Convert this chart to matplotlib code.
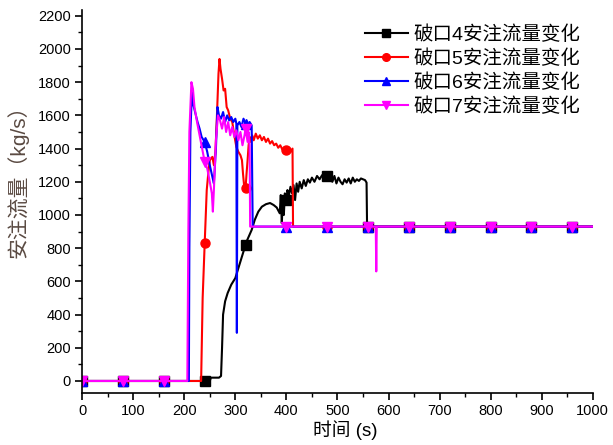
import numpy as np
import matplotlib
matplotlib.use('Agg')
import matplotlib.pyplot as plt
from matplotlib.ticker import MultipleLocator

plt.rcParams['font.family'] = ['Liberation Sans', 'Noto Sans CJK SC', 'DejaVu Sans']

# 破口4
t4 = [0, 240, 250, 252, 268, 272, 274, 276, 280, 285, 292, 300, 310, 322, 332, 338, 345, 352, 360, 368,
      375, 381, 387, 389, 391, 393, 395, 397, 399, 402, 405, 408, 411, 414, 417, 420, 423, 426, 430, 434,
      438, 442, 446, 450, 455, 460, 465, 470, 474, 478, 482, 486, 490, 494, 498, 502, 506, 510, 514, 518,
      522, 526, 530, 534, 538, 542, 546, 550, 554, 557, 558, 1000]
v4 = [0, 0, 0, 20, 20, 30, 200, 400, 480, 530, 580, 620, 720, 840, 910, 970, 1020, 1050, 1065, 1072,
      1060, 1045, 1010, 1120, 950, 1090, 1000, 1130, 1060, 1150, 1120, 1170, 1130, 1180, 1090, 1190, 1140, 1200, 1160, 1210,
      1175, 1215, 1195, 1225, 1200, 1235, 1215, 1240, 1225, 1250, 1220, 1240, 1200, 1235, 1190, 1225, 1200, 1185, 1215, 1195,
      1220, 1190, 1225, 1200, 1215, 1205, 1220, 1215, 1210, 1195, 930, 930]

# 破口5
t5 = [0, 233, 236, 240, 244, 247, 250, 255, 258, 261, 264, 267, 269, 271, 274, 277, 280, 283, 286,
      290, 294, 298, 302, 306, 310, 313, 315, 318, 320, 322, 324, 326, 328, 330, 333, 336, 340, 344, 348,
      352, 356, 360, 364, 368, 372, 376, 380, 384, 388, 392, 396, 400, 404, 408, 412, 413, 1000]
v5 = [0, 0, 500, 830, 1150, 1250, 1330, 1350, 1300, 1380, 1600, 1850, 1940, 1880, 1820, 1750, 1760, 1650, 1630,
      1580, 1560, 1480, 1410, 1380, 1360, 1330, 1250, 1150, 1160, 1250, 1330, 1420, 1470, 1440, 1480, 1450, 1490, 1460, 1480,
      1450, 1470, 1440, 1460, 1430, 1445, 1420, 1430, 1405, 1420, 1395, 1400, 1390, 1405, 1380, 1400, 930, 930]

# 破口6
t6 = [0, 209, 210, 212, 215, 218, 222, 226, 230, 234, 240, 245, 250, 255, 258, 262, 265, 268, 272, 276,
      280, 284, 288, 292, 296, 300, 302, 303, 304, 308, 312, 316, 320, 324, 328, 332, 334, 1000]
v6 = [0, 0, 800, 1500, 1740, 1660, 1610, 1560, 1520, 1470, 1440, 1380, 1300, 1230, 1190, 1400, 1650, 1600, 1580, 1620,
      1560, 1600, 1570, 1590, 1560, 1580, 1550, 290, 1540, 1560, 1530, 1580, 1550, 1520, 1560, 1540, 930, 930]

# 破口7
t7 = [0, 206, 208, 210, 214, 217, 220, 225, 230, 235, 240, 245, 250, 254, 256, 258, 262, 266, 270, 274,
      278, 282, 286, 290, 294, 298, 302, 306, 310, 314, 318, 320, 324, 326, 328, 329, 575, 576, 577, 1000]
v7 = [0, 0, 900, 1500, 1800, 1760, 1650, 1560, 1480, 1400, 1320, 1280, 1200, 1130, 1020, 1150, 1450, 1600, 1570, 1520,
      1590, 1500, 1560, 1480, 1530, 1470, 1510, 1450, 1500, 1420, 1480, 1520, 1440, 1500, 1420, 930, 930, 660, 930, 930]

marker_t = np.arange(0, 1000, 80)

series = [
    (t4, v4, 'black', 's', '破口4安注流量变化'),
    (t5, v5, 'red', 'o', '破口5安注流量变化'),
    (t6, v6, 'blue', '^', '破口6安注流量变化'),
    (t7, v7, 'magenta', 'v', '破口7安注流量变化'),
]

fig = plt.figure(figsize=(6.13, 4.45), dpi=100)
ax = fig.add_axes([0.134, 0.117, 0.833, 0.861])

for t, v, c, m, lab in series:
    ax.plot(t, v, color=c, lw=1.5)
    ax.plot(marker_t, np.interp(marker_t, t, v), ls='none', marker=m, color=c, ms=6.5)
    ax.plot([], [], color=c, lw=1.5, marker=m, ms=5.5, label=lab)

ax.set_xlim(0, 1000)
ax.set_ylim(-72, 2236)
ax.xaxis.set_major_locator(MultipleLocator(100))
ax.xaxis.set_minor_locator(MultipleLocator(50))
ax.yaxis.set_major_locator(MultipleLocator(200))
ax.yaxis.set_minor_locator(MultipleLocator(100))
ax.spines['top'].set_visible(False)
ax.spines['right'].set_visible(False)
ax.spines['left'].set_linewidth(1.2)
ax.spines['bottom'].set_linewidth(1.2)
ax.tick_params(which='major', length=5, width=1.2, labelsize=10.5, pad=3)
ax.tick_params(which='minor', length=3, width=1.0)

ax.set_xlabel('时间 (s)', fontsize=13.5)
ax.xaxis.set_label_coords(0.515, -0.07)
ax.set_ylabel('安注流量（kg/s）', fontsize=15, color='#5a4a42')
ax.yaxis.set_label_coords(-0.105, 0.565)

ax.legend(loc='upper right', bbox_to_anchor=(1.01, 1.005), frameon=False, fontsize=14,
          handlelength=2.2, labelspacing=0.28, handletextpad=0.3)

plt.savefig('out.png', dpi=100)
